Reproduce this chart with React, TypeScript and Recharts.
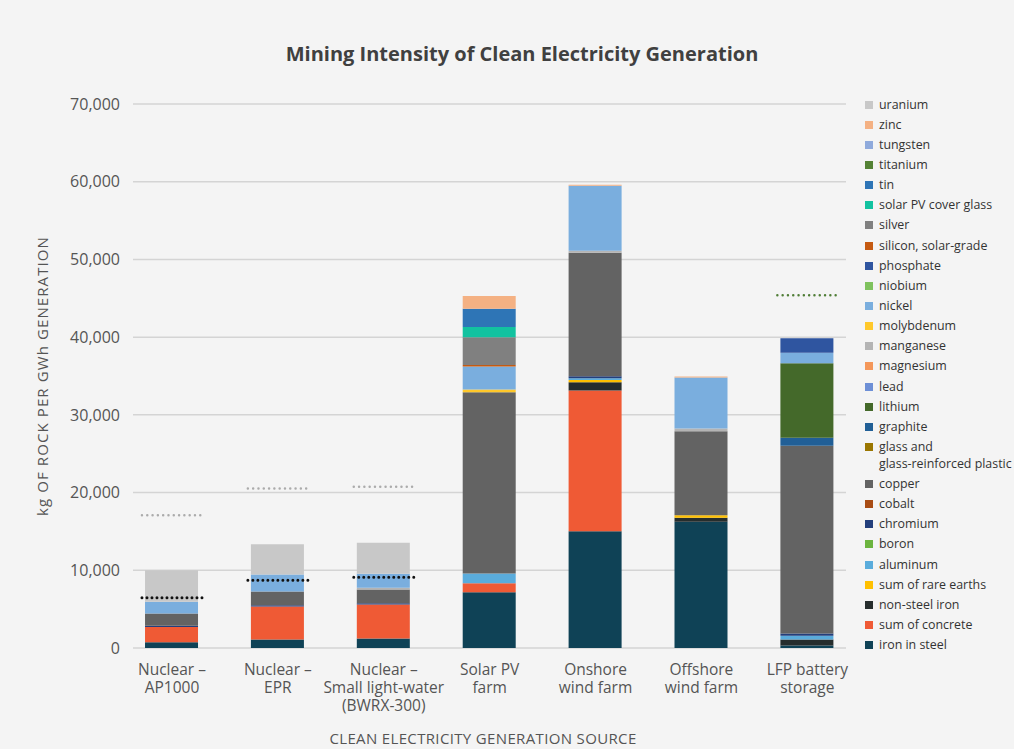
import React from 'react';
import {
  ComposedChart,
  Bar,
  Scatter,
  XAxis,
  YAxis,
  CartesianGrid,
  Legend,
} from 'recharts';

// Generation sources along the x axis
const categories = [
  'Nuclear – AP1000',
  'Nuclear – EPR',
  'Nuclear – Small light-water (BWRX-300)',
  'Solar PV farm',
  'Onshore wind farm',
  'Offshore wind farm',
  'LFP battery storage',
];
const categoryLines = [
  ['Nuclear –', 'AP1000'],
  ['Nuclear –', 'EPR'],
  ['Nuclear –', 'Small light-water', '(BWRX-300)'],
  ['Solar PV', 'farm'],
  ['Onshore', 'wind farm'],
  ['Offshore', 'wind farm'],
  ['LFP battery', 'storage'],
];

// kg of rock per GWh, one value per source (same order as categories)
const ironInSteel = [750, 1090, 1220, 7180, 15030, 16240, 320];
const sumOfConcrete = [1950, 4260, 4380, 1160, 18110, 0, 0];
const nonSteelIron = [0, 0, 0, 0, 1070, 520, 770];
const sumOfRareEarths = [0, 0, 0, 0, 260, 330, 0];
const aluminum = [0, 0, 0, 1250, 250, 0, 480];
const boron = [0, 0, 0, 0, 0, 0, 0];
const chromium = [150, 160, 170, 0, 260, 0, 300];
const cobalt = [0, 0, 0, 0, 0, 0, 0];
const copper = [1590, 1760, 1760, 23330, 15880, 10810, 24150];
const glass = [0, 0, 0, 0, 0, 0, 0];
const graphite = [0, 0, 0, 0, 0, 0, 1030];
const lithium = [0, 0, 0, 0, 0, 0, 9600];
const lead = [0, 0, 0, 0, 0, 0, 0];
const magnesium = [0, 0, 0, 0, 0, 0, 0];
const manganese = [0, 0, 220, 0, 260, 350, 0];
const molybdenum = [0, 0, 0, 350, 0, 0, 0];
const nickel = [1510, 2190, 1800, 2960, 8360, 6570, 1340];
const niobium = [0, 0, 0, 0, 0, 0, 0];
const phosphate = [0, 0, 0, 0, 0, 0, 1880];
const silicon = [0, 0, 0, 170, 0, 0, 0];
const silver = [0, 0, 0, 3600, 0, 0, 0];
const coverGlass = [0, 0, 0, 1290, 0, 0, 0];
const tin = [0, 0, 0, 2360, 0, 0, 0];
const titanium = [0, 0, 0, 0, 0, 0, 0];
const tungsten = [0, 0, 0, 0, 0, 0, 0];
const zinc = [0, 0, 0, 1630, 130, 120, 0];
const uranium = [4050, 3900, 3990, 0, 0, 0, 0];

// Dotted reference marks (kg per GWh)
const nuclearLowMarks = [6460, 8730, 9110];
const nuclearHighMarks = [17090, 20530, 20750];
const batteryMark = [45400];

const yTicks = [0, 10000, 20000, 30000, 40000, 50000, 60000, 70000];

// Stack order, bottom to top
const minerals = [
  { key: 'ironInSteel', label: 'iron in steel', values: ironInSteel, color: '#0f4256' },
  { key: 'sumOfConcrete', label: 'sum of concrete', values: sumOfConcrete, color: '#ef5a35' },
  { key: 'nonSteelIron', label: 'non-steel iron', values: nonSteelIron, color: '#262d2d' },
  { key: 'sumOfRareEarths', label: 'sum of rare earths', values: sumOfRareEarths, color: '#ffc000' },
  { key: 'aluminum', label: 'aluminum', values: aluminum, color: '#5aacdc' },
  { key: 'boron', label: 'boron', values: boron, color: '#6cb43f' },
  { key: 'chromium', label: 'chromium', values: chromium, color: '#233f7c' },
  { key: 'cobalt', label: 'cobalt', values: cobalt, color: '#a84c14' },
  { key: 'copper', label: 'copper', values: copper, color: '#636363' },
  { key: 'glass', label: 'glass and\nglass-reinforced plastic', values: glass, color: '#9a7600' },
  { key: 'graphite', label: 'graphite', values: graphite, color: '#215f96' },
  { key: 'lithium', label: 'lithium', values: lithium, color: '#44692a' },
  { key: 'lead', label: 'lead', values: lead, color: '#6d8fd6' },
  { key: 'magnesium', label: 'magnesium', values: magnesium, color: '#f4975a' },
  { key: 'manganese', label: 'manganese', values: manganese, color: '#b4b4b4' },
  { key: 'molybdenum', label: 'molybdenum', values: molybdenum, color: '#ffc82a' },
  { key: 'nickel', label: 'nickel', values: nickel, color: '#7aaede' },
  { key: 'niobium', label: 'niobium', values: niobium, color: '#7fc25e' },
  { key: 'phosphate', label: 'phosphate', values: phosphate, color: '#2f55a0' },
  { key: 'silicon', label: 'silicon, solar-grade', values: silicon, color: '#c55a11' },
  { key: 'silver', label: 'silver', values: silver, color: '#808080' },
  { key: 'coverGlass', label: 'solar PV cover glass', values: coverGlass, color: '#12c2a0' },
  { key: 'tin', label: 'tin', values: tin, color: '#2e75b6' },
  { key: 'titanium', label: 'titanium', values: titanium, color: '#548235' },
  { key: 'tungsten', label: 'tungsten', values: tungsten, color: '#8faadc' },
  { key: 'zinc', label: 'zinc', values: zinc, color: '#f4b183' },
  { key: 'uranium', label: 'uranium', values: uranium, color: '#c8c8c8' },
];

const data = categories.map((name, idx) => {
  const row: Record<string, number | string> = { idx, name };
  minerals.forEach((m) => {
    row[m.key] = m.values[idx];
  });
  return row;
});

const lowData = nuclearLowMarks.map((v, idx) => ({ idx, v }));
const highData = nuclearHighMarks.map((v, idx) => ({ idx, v }));
const batteryData = batteryMark.map((v) => ({ idx: 6, v }));

const FONT = '"Open Sans", "Noto Sans", sans-serif';
const TEXT = '#555555';

const fmt = (n: number) => n.toLocaleString('en-US');

function makeDotted(color: string, width: number, gap: number) {
  return (props: any) => {
    const { cx, cy } = props;
    if (cx == null || cy == null) return <g />;
    return (
      <line
        x1={cx - 30}
        x2={cx + 31}
        y1={cy}
        y2={cy}
        stroke={color}
        strokeWidth={width}
        strokeDasharray={`0 ${gap}`}
        strokeLinecap="round"
      />
    );
  };
}

// Multi-line category label drawn as one text block
function CategoryTick(props: any) {
  const { x, y, payload } = props;
  const lines = categoryLines[payload.value] || [];
  return (
    <text
      x={x}
      y={y + 27}
      textAnchor="middle"
      fontFamily={FONT}
      fontSize={15.5}
      fill={TEXT}
    >
      {lines.map((line, i) => (
        <tspan key={i} x={x} dy={i === 0 ? 0 : 18}>
          {line}
        </tspan>
      ))}
    </text>
  );
}

function MineralLegend() {
  const items = [...minerals].reverse();
  return (
    <div style={{ fontFamily: FONT, fontSize: 12.4, color: '#333' }}>
      {items.map((m) => {
        const parts = m.label.split('\n');
        const multi = parts.length > 1;
        return (
          <div
            key={m.key}
            style={{
              position: 'relative',
              height: multi ? 37 : 20.15,
              lineHeight: multi ? '17px' : '20.15px',
              paddingTop: multi ? 1.5 : 0,
              boxSizing: 'border-box',
              paddingLeft: 17,
              whiteSpace: 'nowrap',
            }}
          >
            <span
              style={{
                position: 'absolute',
                left: 3,
                top: 6,
                width: 8,
                height: 8,
                background: m.color,
              }}
            />
            {parts.map((p, i) => (
              <div key={i}>{p}</div>
            ))}
          </div>
        );
      })}
    </div>
  );
}

export default function App() {
  return (
    <div
      style={{
        position: 'fixed',
        left: 0,
        top: 0,
        width: 1014,
        height: 749,
        background: '#f4f4f4',
        overflow: 'hidden',
      }}
    >
      <div
        style={{
          position: 'absolute',
          left: 0,
          width: 1044,
          top: 40,
          textAlign: 'center',
          fontFamily: FONT,
          fontWeight: 700,
          fontSize: 20,
          color: '#404040',
        }}
      >
        Mining Intensity of Clean Electricity Generation
      </div>
      <ComposedChart
        width={1014}
        height={749}
        data={data}
        margin={{ top: 104, right: 168, bottom: 11, left: 53 }}
      >
        <CartesianGrid vertical={false} stroke="#d4d4d4" strokeWidth={1.5} />
        <XAxis
          dataKey="idx"
          type="number"
          domain={[-0.368, 6.365]}
          ticks={[0, 1, 2, 3, 4, 5, 6]}
          allowDataOverflow
          axisLine={false}
          tickLine={false}
          tickSize={0}
          tickMargin={0}
          height={90}
          interval={0}
          tick={<CategoryTick />}
          label={() => (
            <text
              x={483}
              y={744}
              textAnchor="middle"
              fontFamily={FONT}
              fontSize={15}
              letterSpacing={0.35}
              fill={TEXT}
            >
              CLEAN ELECTRICITY GENERATION SOURCE
            </text>
          )}
        />
        <YAxis
          type="number"
          domain={[0, 70000]}
          ticks={yTicks}
          width={80}
          axisLine={false}
          tickLine={false}
          tickSize={0}
          tickMargin={13}
          tickFormatter={fmt}
          tick={{ fontFamily: FONT, fontSize: 16, fill: TEXT }}
          label={() => (
            <text
              x={42}
              y={376}
              transform="rotate(-90, 42, 376)"
              textAnchor="middle"
              dominantBaseline="central"
              fontFamily={FONT}
              fontSize={15}
              letterSpacing={1.1}
              fill={TEXT}
            >
              kg OF ROCK PER GWh GENERATION
            </text>
          )}
        />
        {minerals.map((m) => (
          <Bar
            key={m.key}
            dataKey={m.key}
            name={m.label}
            stackId="rock"
            fill={m.color}
            barSize={53}
            isAnimationActive={false}
          />
        ))}
        <Scatter
          data={highData}
          dataKey="v"
          isAnimationActive={false}
          shape={makeDotted('#ababab', 2.5, 5.3)}
        />
        <Scatter
          data={lowData}
          dataKey="v"
          isAnimationActive={false}
          shape={makeDotted('#111111', 3, 5)}
        />
        <Scatter
          data={batteryData}
          dataKey="v"
          isAnimationActive={false}
          shape={makeDotted('#4f7d36', 2.5, 5.3)}
        />
        <Legend
          layout="vertical"
          align="center"
          verticalAlign="middle"
          content={() => <MineralLegend />}
          wrapperStyle={{ position: 'absolute', left: 862, top: 94.6, width: 152 }}
        />
      </ComposedChart>
    </div>
  );
}
